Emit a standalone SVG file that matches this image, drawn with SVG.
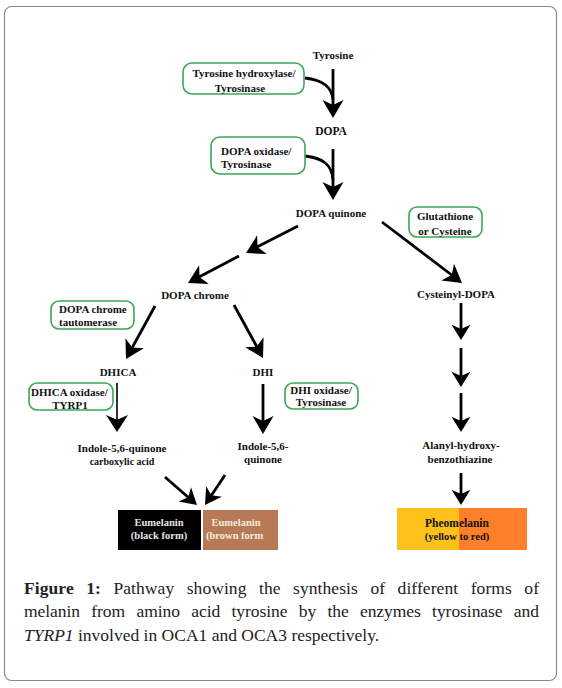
<svg xmlns="http://www.w3.org/2000/svg" xmlns:xlink="http://www.w3.org/1999/xlink" width="562" height="688" viewBox="0 0 562 688">
<style>
.lbl{font-family:"Liberation Serif","Times New Roman",serif;font-weight:bold;font-size:11px;fill:#111;text-anchor:middle}
.lt{text-anchor:start}
.enz{fill:#fff;stroke:#3aa857;stroke-width:1.6}
.ln{stroke:#000;stroke-width:2.8;fill:none}
.ah{fill:#000}
.cap{font-family:"Liberation Serif","Times New Roman",serif;font-size:17.5px;fill:#222}
</style>
<defs>
<path id="ah" d="M0,0 L-10.5,-18 L0,-13 L10.5,-18 Z"/>
</defs>
<rect x="4.5" y="6.5" width="552" height="674" rx="7" fill="#fff" stroke="#8a8a8a" stroke-width="1.2"/>

<g id="connectors">
<line class="ln" x1="333" y1="69" x2="333" y2="106"/>
<path class="ln" d="M305,78 C322,80 332,86 333,100"/>
<use href="#ah" class="ah" transform="translate(333,118)"/>
<line class="ln" x1="333" y1="149" x2="333" y2="188"/>
<path class="ln" d="M305,156 C322,158 332,164 333,180"/>
<use href="#ah" class="ah" transform="translate(333,200)"/>
<line class="ln" x1="298" y1="226" x2="257" y2="247"/>
<use href="#ah" class="ah" transform="translate(246,253) rotate(62.5)"/>
<line class="ln" x1="239" y1="256" x2="199" y2="277"/>
<use href="#ah" class="ah" transform="translate(188,283) rotate(62.5)"/>
<line class="ln" x1="155" y1="306" x2="132" y2="348"/>
<use href="#ah" class="ah" transform="translate(126,359) rotate(28.7)"/>
<line class="ln" x1="234" y1="305" x2="257" y2="347"/>
<use href="#ah" class="ah" transform="translate(263,358) rotate(-28.7)"/>
<line class="ln" style="stroke-width:1.6" x1="117" y1="383" x2="117" y2="420"/>
<use href="#ah" class="ah" transform="translate(117,432) scale(1.05,0.95)"/>
<line class="ln" x1="263" y1="384" x2="263" y2="422"/>
<use href="#ah" class="ah" transform="translate(263,434)"/>
<line class="ln" x1="165" y1="477" x2="189" y2="498"/>
<use href="#ah" class="ah" transform="translate(197,505) rotate(-48.8) scale(0.9)"/>
<line class="ln" x1="225" y1="475" x2="211" y2="496"/>
<use href="#ah" class="ah" transform="translate(205,505) rotate(33.7) scale(0.9)"/>
<line class="ln" x1="382" y1="222" x2="453" y2="276"/>
<use href="#ah" class="ah" transform="translate(462,283) rotate(-52.7)"/>
<line class="ln" x1="461" y1="303" x2="461" y2="330"/>
<use href="#ah" class="ah" transform="translate(461,340) scale(0.9,0.85)"/>
<line class="ln" x1="461" y1="348" x2="461" y2="377"/>
<use href="#ah" class="ah" transform="translate(461,387) scale(0.9,0.85)"/>
<line class="ln" x1="461" y1="393" x2="461" y2="422"/>
<use href="#ah" class="ah" transform="translate(461,432) scale(0.9,0.85)"/>
<line class="ln" x1="461" y1="473" x2="461" y2="495"/>
<use href="#ah" class="ah" transform="translate(461,505) scale(0.9,0.85)"/>
</g>

<g id="tyrosine"><text class="lbl" x="333" y="59">Tyrosine</text></g>
<g id="enz-tyr-hydroxylase">
<rect class="enz" x="183" y="63" width="121" height="31" rx="9"/>
<text class="lbl" x="244" y="77">Tyrosine hydroxylase/</text>
<text class="lbl" x="240" y="92">Tyrosinase</text>
</g>
<g id="dopa"><text class="lbl" x="331" y="135" style="font-size:11.5px">DOPA</text></g>
<g id="enz-dopa-oxidase">
<rect class="enz" x="211" y="137" width="94" height="37" rx="9"/>
<text class="lbl lt" x="221" y="155">DOPA oxidase/</text>
<text class="lbl lt" x="221" y="168">Tyrosinase</text>
</g>
<g id="dopa-quinone"><text class="lbl" x="331" y="217">DOPA quinone</text></g>
<g id="enz-glutathione">
<rect class="enz" x="409" y="207" width="73" height="30" rx="8"/>
<text class="lbl" x="445" y="220">Glutathione</text>
<text class="lbl" x="445" y="235">or Cysteine</text>
</g>
<g id="dopa-chrome"><text class="lbl" x="195" y="299">DOPA chrome</text></g>
<g id="enz-tautomerase">
<rect class="enz" x="51" y="301" width="83" height="28" rx="8"/>
<text class="lbl lt" x="59" y="313">DOPA chrome</text>
<text class="lbl lt" x="59" y="326">tautomerase</text>
</g>
<g id="cysteinyl-dopa"><text class="lbl" x="456" y="298">Cysteinyl-DOPA</text></g>
<g id="dhica"><text class="lbl" x="118" y="376">DHICA</text></g>
<g id="dhi"><text class="lbl" x="263" y="376">DHI</text></g>
<g id="enz-dhica-oxidase">
<rect class="enz" x="29" y="383" width="84" height="27" rx="8"/>
<text class="lbl lt" x="31" y="396">DHICA oxidase/</text>
<text class="lbl" x="70" y="409">TYRP1</text>
</g>
<g id="enz-dhi-oxidase">
<rect class="enz" x="285" y="383" width="73" height="26" rx="8"/>
<text class="lbl" x="321" y="394">DHI oxidase/</text>
<text class="lbl" x="321" y="406">Tyrosinase</text>
</g>
<g id="indole-carboxylic">
<text class="lbl" x="122" y="452">Indole-5,6-quinone</text>
<text class="lbl" x="122" y="465" style="font-size:10px">carboxylic acid</text>
</g>
<g id="indole-quinone">
<text class="lbl" x="263" y="450">Indole-5,6-</text>
<text class="lbl" x="263" y="463">quinone</text>
</g>
<g id="alanyl">
<text class="lbl" x="461" y="449">Alanyl-hydroxy-</text>
<text class="lbl" x="460" y="463">benzothiazine</text>
</g>
<g id="eumelanin-black">
<rect x="118" y="510" width="83" height="40" fill="#000"/>
<text class="lbl" x="159" y="526" style="fill:#e6e6e6;font-size:10.5px">Eumelanin</text>
<text class="lbl" x="159" y="539" style="fill:#e6e6e6;font-size:10.5px">(black form)</text>
</g>
<g id="eumelanin-brown">
<rect x="203" y="510" width="75" height="40" fill="#b87a56"/>
<text class="lbl" x="236" y="526" style="fill:#f6eadf;font-size:10.5px">Eumelanin</text>
<text class="lbl lt" x="206" y="539" style="fill:#f6eadf;font-size:10.5px">(brown form</text>
</g>
<g id="pheomelanin">
<rect x="397" y="508" width="63" height="42" fill="#fcc21b"/>
<rect x="459" y="508" width="68" height="42" fill="#fd7f29"/>
<text class="lbl" x="457" y="527" style="font-size:11.5px">Pheomelanin</text>
<text class="lbl" x="457" y="540" style="font-size:10.5px">(yellow to red)</text>
</g>

<g id="caption">
<text class="cap" x="24" y="594" word-spacing="8" textLength="515" lengthAdjust="spacing"><tspan font-weight="bold">Figure 1:</tspan> Pathway showing the synthesis of different forms of</text>
<text class="cap" x="24" y="617" word-spacing="7" textLength="515" lengthAdjust="spacing">melanin from amino acid tyrosine by the enzymes tyrosinase and</text>
<text class="cap" x="24" y="641"><tspan font-style="italic">TYRP1</tspan> involved in OCA1 and OCA3 respectively.</text>
</g>
</svg>
